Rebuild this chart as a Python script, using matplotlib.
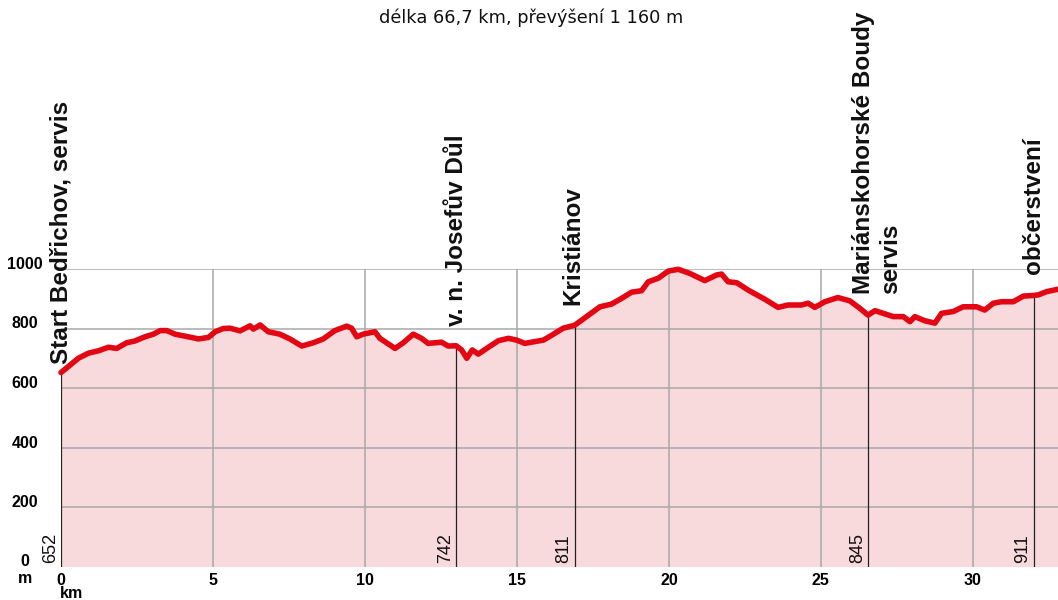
import matplotlib
matplotlib.use('Agg')
import matplotlib.pyplot as plt
import matplotlib.transforms as mtransforms

# elevation profile (km, m)
km = [0.0, 0.24, 0.57, 0.9, 1.23, 1.56, 1.83, 2.16, 2.43, 2.76, 3.04, 3.26, 3.48, 3.75,
      4.19, 4.52, 4.85, 5.07, 5.34, 5.56, 5.89, 6.22, 6.33, 6.55, 6.82, 7.2, 7.53, 7.92,
      8.3, 8.63, 9.01, 9.4, 9.56, 9.73, 9.94, 10.33, 10.49, 10.77, 10.99, 11.26, 11.59,
      11.86, 12.08, 12.52, 12.74, 13.0, 13.18, 13.35, 13.53, 13.73, 14.06, 14.39, 14.72,
      14.99, 15.26, 15.59, 15.87, 16.09, 16.52, 16.9, 17.29, 17.73, 18.11, 18.44, 18.77,
      19.1, 19.32, 19.65, 19.98, 20.31, 20.69, 21.18, 21.57, 21.73, 21.95, 22.23, 22.61,
      23.16, 23.59, 23.92, 24.36, 24.58, 24.8, 25.13, 25.56, 25.95, 26.28, 26.55, 26.78,
      27.05, 27.38, 27.71, 27.93, 28.09, 28.42, 28.75, 28.97, 29.35, 29.68, 30.12, 30.39,
      30.67, 30.94, 31.33, 31.66, 32.0, 32.15, 32.43, 32.8]
elev = [652, 672, 700, 717, 725, 737, 733, 752, 758, 772, 781, 793, 793, 781,
        772, 765, 770, 789, 800, 801, 792, 809, 798, 812, 789, 781, 765, 741,
        752, 765, 793, 808, 801, 772, 781, 789, 767, 748, 733, 752, 781,
        767, 750, 754, 741, 742, 728, 700, 728, 714, 737, 759, 767,
        761, 750, 756, 761, 774, 801, 811, 840, 873, 882, 901, 922,
        927, 957, 969, 993, 999, 985, 961, 980, 983, 957, 954, 929,
        898, 871, 879, 879, 885, 871, 890, 904, 893, 868, 845, 860,
        851, 840, 840, 823, 840, 826, 818, 851, 857, 873, 873, 862,
        885, 890, 890, 909, 911, 913, 924, 932]

# points of interest
poi_km = [0.0, 13.0, 16.9, 26.55, 32.0]
poi_elev = [652, 742, 811, 845, 911]
poi_names = ['Start Bedřichov, servis', 'v. n. Josefův Důl', 'Kristiánov',
             'Mariánskohorské Boudy\nservis', 'občerstvení']
poi_gap = [9, 20, 20, 21, 21]   # px between curve and label
poi_shift = [0, 0, -2, 9, 0]    # px sideways nudge of label

title = 'délka 66,7 km, převýšení 1 160 m'
yticks = [0, 200, 400, 600, 800, 1000]
xticks = [0, 5, 10, 15, 20, 25, 30]

red = '#e30613'
pink = '#f9dadc'
grid_col = '#a8a8a8'
font = 'Liberation Sans'

fig = plt.figure(figsize=(10.58, 6.0), dpi=100)
ax = fig.add_axes([61 / 1058, 33.5 / 600, 997 / 1058, 297.5 / 600])
ax.set_xlim(0, 32.8)
ax.set_ylim(0, 1000)
for s in ax.spines.values():
    s.set_visible(False)

ax.fill_between(km, elev, 0, color=pink, lw=0, zorder=1)
for y in yticks[1:]:
    ax.axhline(y, color=grid_col, lw=1.1, zorder=2)
for x in xticks[1:]:
    ax.axvline(x, color=grid_col, lw=1.1, zorder=2)

ax.plot(km, elev, color=red, lw=4.0, solid_joinstyle='round', solid_capstyle='round',
        zorder=4, clip_on=False)

for x, e, name, gap, dx in zip(poi_km, poi_elev, poi_names, poi_gap, poi_shift):
    ax.plot([x, x], [0, e], color='#222222', lw=0.9, zorder=3)
    ax.annotate(str(e), (x, 0), xytext=(-1.5, 2.5), textcoords='offset points',
                rotation=90, ha='right', va='bottom', fontsize=13,
                family=font, color='#111111', zorder=5)
    ax.annotate(name, (x, e), xytext=(dx * 0.72, gap * 0.72), textcoords='offset points',
                rotation=90, ha='center', va='bottom', fontsize=17.5,
                fontweight='bold', family=font, color='#111111',
                multialignment='left', annotation_clip=False, zorder=5)

# y labels centred in the left margin
ylab_tr = mtransforms.blended_transform_factory(fig.transFigure, ax.transData)
ax.set_yticks([])
for v in yticks:
    ax.text(25 / 1058, v, str(v), transform=ylab_tr, ha='center', va='baseline',
            fontsize=11.5, fontweight='bold', family=font)

ax.set_xticks(xticks)
ax.set_xticklabels([str(v) for v in xticks], fontsize=11.5, fontweight='bold',
                   family=font)
ax.tick_params(axis='x', length=0, pad=5)

fig.text(25 / 1058, 1 - 583 / 600, 'm', ha='center', va='baseline', fontsize=11.5,
         fontweight='bold', family=font)
fig.text(60 / 1058, 1 - 598 / 600, 'km', ha='left', va='baseline', fontsize=11.5,
         fontweight='bold', family=font)

fig.text(531 / 1058, 1 - 18 / 600, title, ha='center', va='center', fontsize=12.8,
         family='DejaVu Sans', color='#111111')

fig.savefig('out.png', dpi=100)
